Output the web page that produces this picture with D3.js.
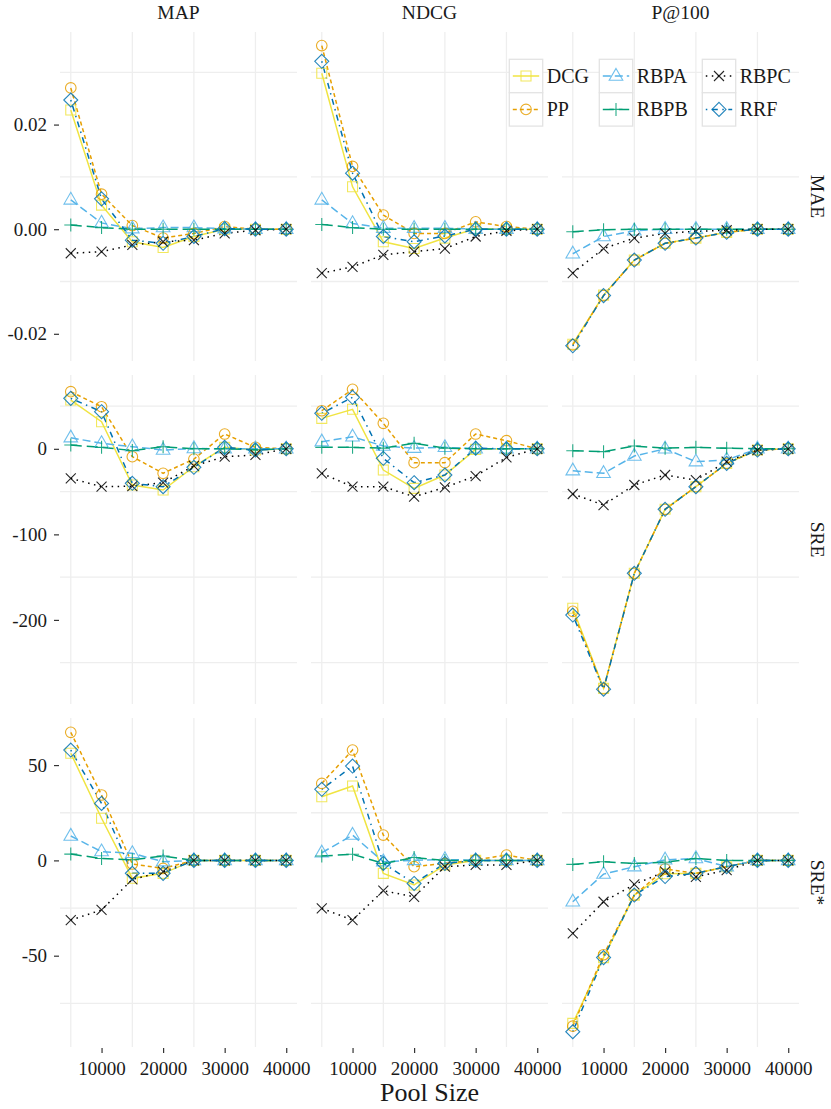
<!DOCTYPE html>
<html><head><meta charset="utf-8">
<script src="https://cdn.jsdelivr.net/npm/d3@7"></script>
<style>
body{margin:0;background:#fff}
svg{display:block}
text{font-family:"Liberation Serif","Times New Roman",serif;fill:#1a1a1a}
</style>
</head><body><svg id="c" width="831" height="1109"></svg>
<script>
// ---------- data ----------
const poolSizes = [5000, 10000, 15000, 20000, 25000, 30000, 35000, 40000];
const measures = ["MAP", "NDCG", "P@100"];
const metrics = ["MAE", "SRE", "SRE*"];
const methods = ["DCG", "PP", "RBPA", "RBPB", "RBPC", "RRF"];
const xTicks = [10000, 20000, 30000, 40000];
const xMinor = [5000, 15000, 25000, 35000];
const yTicks = [[-0.02, 0, 0.02], [-200, -100, 0], [-50, 0, 50]];
const yTickLabels = [["-0.02", "0.00", "0.02"], ["-200", "-100", "0"], ["-50", "0", "50"]];
const yMinor = [[-0.01, 0.01, 0.03], [-250, -150, -50, 50], [-75, -25, 25]];
const yDomains = [[-0.0252, 0.0377], [-298.3, 86.3], [-97.9, 74.7]];

// rows: DCG, PP, RBPA, RBPB, RBPC, RRF
const MAE_MAP = [
  [0.0228, 0.0046, -0.0024, -0.0035, -0.0014, 0.0000, 0.0000, 0],
  [0.0270, 0.0067, 0.0007, -0.0017, -0.0008, 0.0005, 0.0000, 0],
  [0.0056, 0.0012, 0.0001, 0.0003, 0.0003, 0.0001, 0.0000, 0],
  [0.0008, 0.0003, 0.0000, 0.0000, 0.0000, 0.0000, 0.0000, 0],
  [-0.0046, -0.0043, -0.0030, -0.0024, -0.0021, -0.0008, -0.0002, 0],
  [0.0247, 0.0058, -0.0021, -0.0027, -0.0014, 0.0001, 0.0000, 0]
];
const MAE_NDCG = [
  [0.0298, 0.0081, -0.0024, -0.0037, -0.0017, 0.0001, 0.0000, 0],
  [0.0351, 0.0120, 0.0027, -0.0008, -0.0008, 0.0014, 0.0005, 0],
  [0.0056, 0.0011, 0.0002, 0.0002, 0.0002, 0.0000, 0.0000, 0],
  [0.0009, 0.0003, 0.0000, 0.0000, 0.0000, 0.0000, 0.0000, 0],
  [-0.0084, -0.0072, -0.0049, -0.0043, -0.0037, -0.0014, -0.0003, 0],
  [0.0321, 0.0107, -0.0014, -0.0024, -0.0013, 0.0000, 0.0000, 0]
];
const MAE_P100 = [
  [-0.0220, -0.0126, -0.0059, -0.0027, -0.0017, -0.0006, 0.0000, 0],
  [-0.0221, -0.0127, -0.0059, -0.0027, -0.0017, -0.0006, 0.0000, 0],
  [-0.0047, -0.0014, -0.0003, 0.0000, 0.0000, 0.0000, 0.0000, 0],
  [-0.0005, -0.0001, 0.0000, 0.0000, 0.0000, 0.0000, 0.0000, 0],
  [-0.0084, -0.0037, -0.0017, -0.0008, -0.0004, -0.0002, 0.0000, 0],
  [-0.0223, -0.0127, -0.0059, -0.0027, -0.0017, -0.0006, 0.0000, 0]
];
const SRE_MAP = [
  [57.0, 31.7, -42.3, -48.2, -20.9, 1.7, -1.4, 0],
  [66.8, 49.2, -9.2, -28.6, -12.0, 17.3, 1.7, 0],
  [13.0, 6.4, 2.5, -1.4, 0.4, 0, 0, 0],
  [4.4, 1.7, -2.0, 2.5, 0, 0, -1.0, 0],
  [-34.5, -44.3, -43.6, -39.6, -20.0, -9.2, -7.2, 0],
  [59.0, 43.4, -40.3, -44.3, -21.6, 1.7, -1.4, 0]
];
const SRE_NDCG = [
  [35.6, 46.2, -24.8, -46.2, -30.6, -0.6, 0, 0],
  [44.5, 69.5, 29.8, -16.2, -16.2, 17.3, 9.5, 0],
  [8.3, 14.1, 3.3, 0.8, 1.7, 0, 0, 0],
  [1.7, 1.7, 0.8, 6.4, 0.8, 0, 0, 0],
  [-28.6, -44.3, -44.3, -56.0, -45.0, -31.8, -10.0, 0],
  [41.5, 60.2, -11.1, -39.6, -30.6, 0.7, 0, 0]
];
const SRE_P100 = [
  [-186.4, -280.0, -145.5, -70.7, -44.3, -17.0, -1.4, 0],
  [-190.0, -280.5, -145.5, -70.7, -44.3, -17.0, -1.4, 0],
  [-25.6, -28.6, -8.4, 0, -15.0, -13.0, 0, 0],
  [-2.2, -3.3, 3.3, 0.8, 1.7, 0.8, 0, 0],
  [-52.8, -65.7, -42.3, -30.6, -36.5, -15.0, -1.4, 0],
  [-194.3, -281.0, -145.5, -70.7, -44.3, -17.0, -1.4, 0]
];
const SRES_MAP = [
  [56.2, 22.1, -9.4, -6.8, 0, 0, 0, 0],
  [67.2, 34.3, -1.9, -4.2, 0, 0, 0, 0],
  [12.8, 4.6, 3.7, -0.7, 0, 0, 0, 0],
  [3.3, 1.0, 0.3, 2.3, 0, 0, 0, 0],
  [-31.3, -26.0, -10.0, -5.9, 0, 0, 0, 0],
  [57.9, 29.9, -6.8, -6.8, 0, 0, 0, 0]
];
const SRES_NDCG = [
  [33.4, 39.0, -6.8, -12.9, -2.4, 0, 0, 0],
  [40.4, 57.9, 13.3, -3.3, -1.6, 0.3, 2.8, 0],
  [4.0, 13.3, -0.7, 0, 0.5, 0, 0, 0],
  [2.3, 3.2, -1.6, 1.5, 0, 0, 0, 0],
  [-25.2, -31.3, -15.9, -19.1, -3.3, -2.4, -2.4, 0],
  [37.3, 49.5, -1.6, -12.1, -1.6, 0, 0, 0]
];
const SRES_P100 = [
  [-85.5, -51.0, -18.2, -7.0, -6.8, -3.3, 0, 0],
  [-87.0, -49.5, -18.2, -4.5, -6.8, -3.3, 0, 0],
  [-21.7, -7.2, -3.3, 0.3, 1.0, -3.3, 0, 0],
  [-2.1, -0.7, -1.6, -1.0, 1.0, 0, 0, 0],
  [-38.3, -21.7, -12.6, -5.9, -8.6, -5.1, 0, 0],
  [-89.9, -51.0, -18.2, -8.5, -6.8, -3.3, 0, 0]
];
const panelData = [
  [MAE_MAP, MAE_NDCG, MAE_P100],
  [SRE_MAP, SRE_NDCG, SRE_P100],
  [SRES_MAP, SRES_NDCG, SRES_P100]
];

// ---------- style ----------
const colors = ["#F0E442", "#E69F00", "#56B4E9", "#009E73", "#000000", "#0072B2"];
const dashes = [null, "4,3", "8,4", "11,5", "1.5,4.5", "1.5,4.5,6,4.5"];
const shapes = ["square", "circle", "triangle", "plus", "cross", "diamond"];

function shapePath(s) {
  switch (s) {
    case "square": return "M-5,-5H5V5H-5Z";
    case "circle": return "M5.3,0A5.3,5.3 0 1,1 -5.3,0A5.3,5.3 0 1,1 5.3,0Z";
    case "triangle": return "M0,-7.6L6.8,4.2L-6.8,4.2Z";
    case "plus": return "M-6.5,0H6.5M0,-6.5V6.5";
    case "cross": return "M-5,-5L5,5M-5,5L5,-5";
    case "diamond": return "M0,-7L7,0L0,7L-7,0Z";
  }
}

const svg = d3.select("#c");
const panelX = [60, 311, 562], panelY = [32, 375, 718], PW = 237, PH = 329;
const x = d3.scaleLinear().domain([3250, 41750]).range([0, PW]);
const yScales = yDomains.map(d => d3.scaleLinear().domain(d).range([PH, 0]));

// grid
for (let r = 0; r < 3; r++) {
  for (let c = 0; c < 3; c++) {
    const g = svg.append("g").attr("transform", `translate(${panelX[c]},${panelY[r]})`);
    g.selectAll("line.v").data(xMinor).join("line")
      .attr("x1", d => x(d)).attr("x2", d => x(d)).attr("y1", 0).attr("y2", PH)
      .attr("stroke", "#eeeeee").attr("stroke-width", 1.3);
    g.selectAll("line.h").data(yMinor[r]).join("line")
      .attr("x1", 0).attr("x2", PW).attr("y1", d => yScales[r](d)).attr("y2", d => yScales[r](d))
      .attr("stroke", "#eeeeee").attr("stroke-width", 1.3);
  }
}

// lines
for (let r = 0; r < 3; r++) {
  for (let c = 0; c < 3; c++) {
    const y = yScales[r];
    const g = svg.append("g").attr("transform", `translate(${panelX[c]},${panelY[r]})`);
    const line = d3.line().x((d, i) => x(poolSizes[i])).y(d => y(d));
    panelData[r][c].forEach((vals, m) => {
      g.append("path").attr("d", line(vals)).attr("fill", "none")
        .attr("stroke", colors[m]).attr("stroke-width", 1.5)
        .attr("stroke-dasharray", dashes[m]);
    });
  }
}
// points
for (let r = 0; r < 3; r++) {
  for (let c = 0; c < 3; c++) {
    const y = yScales[r];
    const g = svg.append("g").attr("transform", `translate(${panelX[c]},${panelY[r]})`);
    panelData[r][c].forEach((vals, m) => {
      g.selectAll(null).data(vals).join("path")
        .attr("transform", (d, i) => `translate(${x(poolSizes[i])},${y(d)})`)
        .attr("d", shapePath(shapes[m])).attr("fill", "none")
        .attr("stroke", colors[m]).attr("stroke-width", 1.1).attr("stroke-opacity", 0.85);
    });
  }
}

// y axes
for (let r = 0; r < 3; r++) {
  const ax = d3.axisLeft(yScales[r]).tickValues(yTicks[r]).tickSize(5).tickPadding(7)
    .tickFormat((d, i) => yTickLabels[r][i]);
  const g = svg.append("g").attr("transform", `translate(${panelX[0] - 1},${panelY[r]})`).call(ax);
  g.select(".domain").remove();
  g.selectAll(".tick line").attr("stroke", "#333").attr("stroke-width", 1.2);
  g.selectAll(".tick text").attr("font-size", 19).attr("font-family", "Liberation Serif").attr("fill", "#1a1a1a");
}
// x axes
for (let c = 0; c < 3; c++) {
  const ax = d3.axisBottom(x).tickValues(xTicks).tickSize(5).tickPadding(9)
    .tickFormat(d3.format("d"));
  const g = svg.append("g").attr("transform", `translate(${panelX[c]},${panelY[2] + PH + 1})`).call(ax);
  g.select(".domain").remove();
  g.selectAll(".tick line").attr("stroke", "#333").attr("stroke-width", 1.2);
  g.selectAll(".tick text").attr("font-size", 19).attr("font-family", "Liberation Serif").attr("fill", "#1a1a1a");
}

// strips
svg.selectAll("text.top").data(measures).join("text")
  .attr("x", (d, i) => panelX[i] + PW / 2).attr("y", 18.5)
  .attr("text-anchor", "middle").attr("font-size", 19.5).text(d => d);
svg.selectAll("text.right").data(metrics).join("text")
  .attr("transform", (d, i) => `translate(817,${panelY[i] + PH / 2}) rotate(90)`)
  .attr("text-anchor", "middle").attr("dominant-baseline", "central")
  .attr("font-size", 19.5).text(d => d);

// x title
svg.append("text").attr("x", (panelX[0] + panelX[2] + PW) / 2).attr("y", 1101)
  .attr("text-anchor", "middle").attr("font-size", 26).text("Pool Size");

// legend
const keyX = [509.3, 599.3, 702.3], keyY = [59.3, 92.7], KS = 33.4;
const leg = svg.append("g");
methods.forEach((m, i) => {
  const col = Math.floor(i / 2), row = i % 2;
  const gx = keyX[col], gy = keyY[row];
  const k = leg.append("g").attr("transform", `translate(${gx},${gy})`);
  k.append("rect").attr("width", KS).attr("height", KS).attr("fill", "#fff")
    .attr("stroke", "#e3e3e3").attr("stroke-width", 1.3);
  k.append("line").attr("x1", 3.5).attr("x2", KS - 3.5).attr("y1", KS / 2).attr("y2", KS / 2)
    .attr("stroke", colors[i]).attr("stroke-width", 1.5).attr("stroke-dasharray", dashes[i]);
  k.append("path").attr("transform", `translate(${KS / 2},${KS / 2})`).attr("d", shapePath(shapes[i]))
    .attr("fill", "none").attr("stroke", colors[i]).attr("stroke-width", 1.1).attr("stroke-opacity", 0.85);
  leg.append("text").attr("x", gx + KS + 4).attr("y", gy + KS / 2 + 7)
    .attr("font-size", 20).text(m);
});
</script>
</body></html>
